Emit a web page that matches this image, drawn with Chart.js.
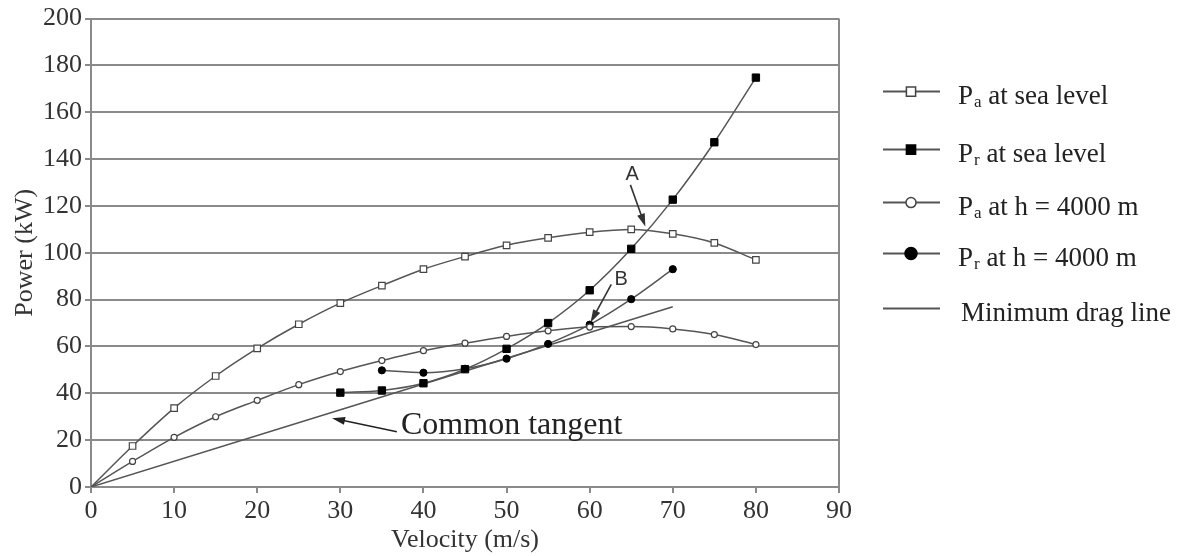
<!DOCTYPE html>
<html>
<head>
<meta charset="utf-8">
<script src="https://cdn.jsdelivr.net/npm/chart.js@4"></script>
<style>
  html, body { margin: 0; padding: 0; background: #fff; }
  #wrap { width: 1179px; height: 556px; }
</style>
</head>
<body>
<div id="wrap"><canvas id="chart"></canvas></div>
<script>
// velocity in m/s, power in kW
const velocity = [0, 5, 10, 15, 20, 25, 30, 35, 40, 45, 50, 55, 60, 65, 70, 75, 80];
const paSeaLevel = [0, 17.5, 33.7, 47.4, 59.2, 69.5, 78.5, 86, 93, 98.4, 103.2, 106.4, 108.8, 110, 108.1, 104.2, 97];
const paAltitude = [0, 10.9, 21.2, 30, 37, 43.7, 49.3, 54, 58.2, 61.4, 64.3, 66.7, 68.3, 68.5, 67.5, 65.1, 60.8];

const prSeaVelocity = [30, 35, 40, 45, 50, 55, 60, 65, 70, 75, 80];
const prSeaLevel = [40.3, 41.2, 44.3, 50.3, 59, 70, 84, 101.7, 122.7, 147.2, 174.8];

const prAltVelocity = [35, 40, 45, 50, 55, 60, 65, 70];
const prAltitude = [49.8, 48.8, 50.5, 54.8, 61.1, 69.3, 80.2, 93];

const dragLineVelocity = [0, 70];
const dragLinePower = [0, 77];

const seriesLabels = ['Pa at sea level', 'Pr at sea level', 'Pa at h = 4000 m', 'Pr at h = 4000 m', 'Minimum drag line'];

const yTicks = [0, 20, 40, 60, 80, 100, 120, 140, 160, 180, 200];
const xTicks = [0, 10, 20, 30, 40, 50, 60, 70, 80, 90];

// notes on the plot, in data units: [label, textX, textY, arrowFromX, arrowFromY, arrowToX, arrowToY]
const pointNotes = [
  ['A', 65.1, 133.5, 64.9, 129, 66.7, 111.2],
  ['B', 63.8, 88.5, 62.6, 86.5, 60.1, 70.2]
];
const tangentNote = ['Common tangent', 37.3, 26.3, 36.8, 23.6, 29.0, 29.4];

const pair = (xs, ys) => xs.map((x, i) => ({x: x, y: ys[i]}));

const LINE = '#555';
const GRID = '#8a8a8a';
const SERIF = '"Liberation Serif", "Times New Roman", serif';

function hideOrigin(r) {
  return ctx => (ctx.raw && ctx.raw.x === 0 ? 0 : r);
}

const datasets = [
  {
    label: seriesLabels[0],
    data: pair(velocity, paSeaLevel),
    borderColor: LINE, borderWidth: 1.5,
    pointStyle: 'rect', pointRadius: hideOrigin(4.6),
    pointBackgroundColor: '#fff', pointBorderColor: '#444', pointBorderWidth: 1.2,
    legendRadius: 6.5
  },
  {
    label: seriesLabels[1],
    data: pair(prSeaVelocity, prSeaLevel),
    borderColor: LINE, borderWidth: 1.5,
    pointStyle: 'rect', pointRadius: 5.2,
    pointBackgroundColor: '#000', pointBorderColor: '#000', pointBorderWidth: 1,
    legendRadius: 6.5
  },
  {
    label: seriesLabels[2],
    data: pair(velocity, paAltitude),
    borderColor: LINE, borderWidth: 1.5,
    pointStyle: 'circle', pointRadius: hideOrigin(3),
    pointBackgroundColor: '#fff', pointBorderColor: '#444', pointBorderWidth: 1.2,
    legendRadius: 5
  },
  {
    label: seriesLabels[3],
    data: pair(prAltVelocity, prAltitude),
    borderColor: LINE, borderWidth: 1.5,
    pointStyle: 'circle', pointRadius: 3.6,
    pointBackgroundColor: '#000', pointBorderColor: '#000', pointBorderWidth: 1,
    legendRadius: 6
  },
  {
    label: seriesLabels[4],
    data: pair(dragLineVelocity, dragLinePower),
    borderColor: LINE, borderWidth: 1.5,
    pointRadius: 0,
    legendRadius: 0
  }
];

function drawArrow(ctx, x1, y1, x2, y2) {
  const ang = Math.atan2(y2 - y1, x2 - x1);
  const len = 13, half = 4;
  ctx.beginPath();
  ctx.moveTo(x1, y1);
  ctx.lineTo(x2 - Math.cos(ang) * len * 0.8, y2 - Math.sin(ang) * len * 0.8);
  ctx.stroke();
  ctx.beginPath();
  ctx.moveTo(x2, y2);
  ctx.lineTo(x2 - Math.cos(ang) * len - Math.sin(ang) * half, y2 - Math.sin(ang) * len + Math.cos(ang) * half);
  ctx.lineTo(x2 - Math.cos(ang) * len + Math.sin(ang) * half, y2 - Math.sin(ang) * len - Math.cos(ang) * half);
  ctx.closePath();
  ctx.fill();
}

// legend row offsets from the top of the plot
const legendRows = [73, 131, 184, 235, 290];

const extras = {
  id: 'extras',
  afterDatasetsDraw(chart) {
    const {ctx, chartArea, scales} = chart;
    const sx = scales.x, sy = scales.y;
    ctx.save();

    // right frame line
    ctx.strokeStyle = GRID;
    ctx.lineWidth = 2;
    ctx.beginPath();
    ctx.moveTo(chartArea.right, chartArea.top);
    ctx.lineTo(chartArea.right, chartArea.bottom + 6);
    ctx.stroke();

    // A / B notes
    ctx.fillStyle = '#333';
    ctx.strokeStyle = '#333';
    ctx.lineWidth = 1.6;
    ctx.font = '20px "Liberation Sans", Arial, sans-serif';
    ctx.textAlign = 'center';
    ctx.textBaseline = 'middle';
    pointNotes.forEach(n => {
      ctx.fillText(n[0], sx.getPixelForValue(n[1]), sy.getPixelForValue(n[2]));
      drawArrow(ctx, sx.getPixelForValue(n[3]), sy.getPixelForValue(n[4]),
        sx.getPixelForValue(n[5]), sy.getPixelForValue(n[6]));
    });

    // common tangent note
    ctx.fillStyle = '#222';
    ctx.font = '32px ' + SERIF;
    ctx.textAlign = 'left';
    ctx.fillText(tangentNote[0], sx.getPixelForValue(tangentNote[1]), sy.getPixelForValue(tangentNote[2]));
    ctx.strokeStyle = '#222';
    drawArrow(ctx, sx.getPixelForValue(tangentNote[3]), sy.getPixelForValue(tangentNote[4]),
      sx.getPixelForValue(tangentNote[5]), sy.getPixelForValue(tangentNote[6]));

    // legend on the right
    const lx = chartArea.right + 44;
    const tx = chartArea.right + 119;
    chart.data.datasets.forEach((ds, i) => {
      const y = chartArea.top + legendRows[i];
      ctx.strokeStyle = ds.borderColor;
      ctx.lineWidth = 2;
      ctx.beginPath();
      ctx.moveTo(lx, y);
      ctx.lineTo(lx + 57, y);
      ctx.stroke();
      if (ds.legendRadius) {
        ctx.fillStyle = ds.pointBackgroundColor;
        ctx.strokeStyle = ds.pointBorderColor;
        ctx.lineWidth = 1.5;
        ctx.beginPath();
        const r = ds.legendRadius;
        if (ds.pointStyle === 'rect') {
          const s = r * Math.SQRT1_2;
          ctx.rect(lx + 28 - s, y - s, 2 * s, 2 * s);
        } else {
          ctx.arc(lx + 28, y, r, 0, Math.PI * 2);
        }
        ctx.fill();
        ctx.stroke();
      }
      const label = ds.label;
      ctx.fillStyle = '#222';
      ctx.textBaseline = 'alphabetic';
      ctx.textAlign = 'left';
      let x = tx;
      if (label[0] === 'P' && (label[1] === 'a' || label[1] === 'r')) {
        ctx.font = '27px ' + SERIF;
        ctx.fillText('P', x, y + 12);
        x += ctx.measureText('P').width + 1;
        ctx.font = '17px ' + SERIF;
        ctx.fillText(label[1], x, y + 15);
        x += ctx.measureText(label[1]).width;
        ctx.font = '27px ' + SERIF;
        ctx.fillText(label.slice(2), x, y + 12);
      } else {
        ctx.font = '27px ' + SERIF;
        ctx.fillText(label, x + 3, y + 12);
      }
    });
    ctx.restore();
  }
};

new Chart(document.getElementById('chart'), {
  type: 'line',
  data: {datasets: datasets},
  options: {
    responsive: true,
    maintainAspectRatio: false,
    animation: false,
    layout: {padding: {top: 16, right: 340, left: 0, bottom: 0}},
    elements: {line: {cubicInterpolationMode: 'monotone', fill: false}},
    plugins: {legend: {display: false}, tooltip: {enabled: false}},
    scales: {
      x: {
        type: 'linear', min: 0, max: 90,
        afterBuildTicks: s => { s.ticks = xTicks.map(v => ({value: v})); },
        afterFit: s => { s.height = 69; },
        ticks: {color: '#333', font: {family: SERIF, size: 26, lineHeight: 1.2}, padding: 3, maxRotation: 0},
        grid: {drawOnChartArea: false, drawTicks: true, tickLength: 6, color: GRID, lineWidth: 2},
        border: {color: GRID, width: 2},
        title: {display: true, text: 'Velocity (m/s)', color: '#333',
          font: {family: SERIF, size: 26, lineHeight: 1.2}, padding: {top: 0, bottom: 0}}
      },
      y: {
        type: 'linear', min: 0, max: 200,
        afterBuildTicks: s => { s.ticks = yTicks.map(v => ({value: v})); },
        afterFit: s => { s.width = 91; },
        ticks: {color: '#333', font: {family: SERIF, size: 26, lineHeight: 1.2}, padding: 3},
        grid: {color: GRID, lineWidth: 2, tickLength: 6},
        border: {color: GRID, width: 2},
        title: {display: true, text: 'Power (kW)', color: '#333',
          font: {family: SERIF, size: 26, lineHeight: 1.2}, padding: {top: 10, bottom: 0}}
      }
    }
  },
  plugins: [extras]
});
</script>
</body>
</html>
